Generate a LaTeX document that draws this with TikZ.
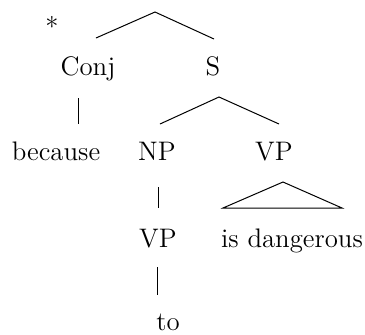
\documentclass[tikz,border=0pt]{standalone}
\usepackage{tikz}
\usetikzlibrary{calc}
\tikzstyle{tsLabel} = [ 
    text=black, 
    font=\fontsize{13.4}{16}\selectfont,
    inner sep=0pt,
    anchor=base
]
\tikzstyle{tsBranch} = [ 
    draw=black,
    line width=0.5pt
]
\begin{document}
\begin{tikzpicture}[x=0.5pt, y=-0.5pt]
        
        \useasboundingbox (0,0) rectangle (365,334);
        
        \node[tsLabel] (star) at (52,36) {*};
        \node[tsLabel] (conj) at (88,75) {Conj};
        \node[tsLabel] (s) at (213,75) {S};
        \node[tsLabel] (because) at (56,160) {because};
        \node[tsLabel] (np) at (157,160) {NP};
        \node[tsLabel] (vpR) at (274,160) {VP};
        \node[tsLabel] (vpL) at (158,247) {VP};
        \node[tsLabel] (dangerous) at (292,247) {is dangerous};
        \node[tsLabel] (to) at (168,330) {to};
        
        \coordinate (topL) at (96,38);
        \coordinate (topA) at (155,12);
        \coordinate (topR) at (214,39);
        \coordinate (conjT) at (78,98);
        \coordinate (conjB) at (78,124);
        \coordinate (sL) at (160,124);
        \coordinate (sA) at (219,97);
        \coordinate (sR) at (279,124);
        \coordinate (npT) at (158,187);
        \coordinate (npB) at (158,208);
        \coordinate (triA) at (283,182);
        \coordinate (triL) at (223,208);
        \coordinate (triR) at (342,208);
        \coordinate (vpT) at (157,267);
        \coordinate (vpB) at (157,295);
        
        \draw[tsBranch] (topL) -- (topA) -- (topR);
        \draw[tsBranch] (conjT) -- (conjB);
        \draw[tsBranch] (sL) -- (sA) -- (sR);
        \draw[tsBranch] (npT) -- (npB);
        \draw[tsBranch] (triA) -- (triL) -- (triR) -- cycle;
        \draw[tsBranch] (vpT) -- (vpB);
        
       \end{tikzpicture}
\end{document}
